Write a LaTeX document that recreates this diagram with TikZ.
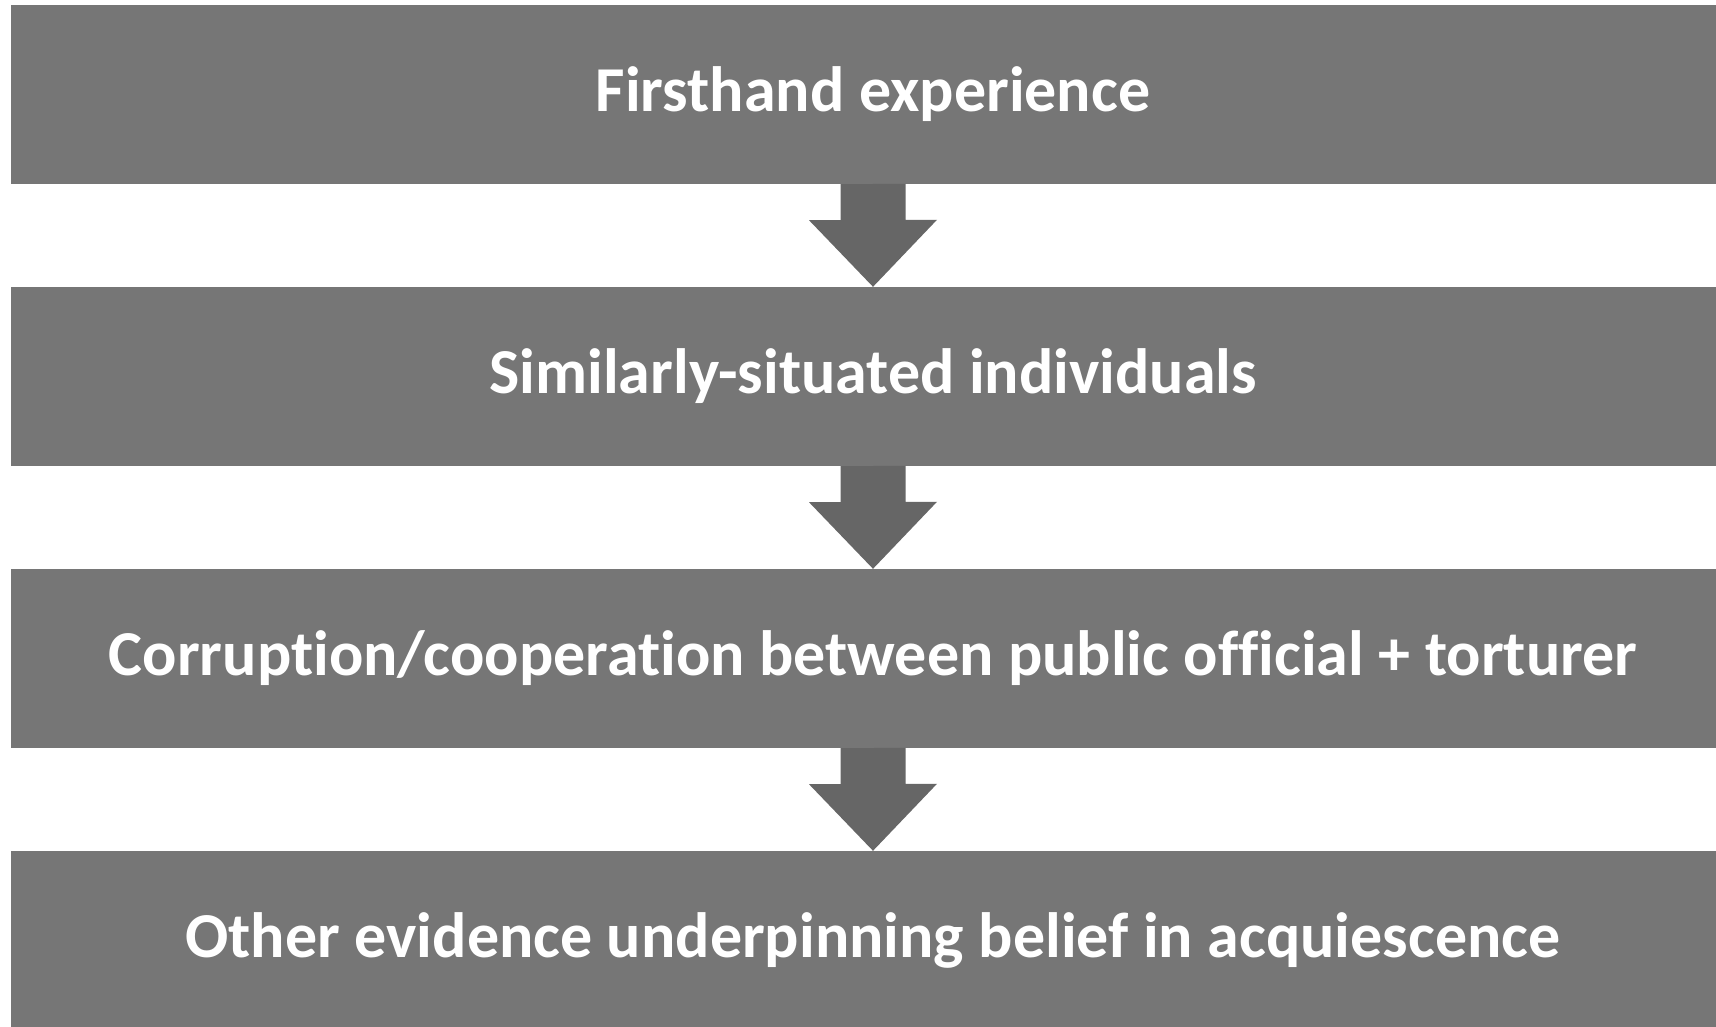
\documentclass[tikz,border=0pt]{standalone}
\usepackage{fontspec}
\setmainfont[RawFeature=-liga]{Carlito}
\begin{document}
\begin{tikzpicture}[x=1pt,y=-1pt,
  stage/.style={fill=boxgray, draw=none, minimum width=1724pt, minimum height=179pt,
    inner sep=0pt, text=white, font=\fontsize{64}{76}\selectfont\bfseries},
  flowarrow/.style={fill=arrowgray, draw=none}]
\definecolor{boxgray}{RGB}{118,118,118}
\definecolor{arrowgray}{RGB}{102,102,102}
\useasboundingbox (0,0) rectangle (1716,1027);
\clip (0,0) rectangle (1716,1027);
\fill[white] (0,0) rectangle (1716,1027);
% four stacked stages
\node[stage] (s1) at (873,94.5)  {Firsthand experience};
\node[stage] (s2) at (873,376.5) {Similarly-situated individuals};
\node[stage] (s3) at (873,658.5) {Corruption/cooperation between public official + torturer};
\node[stage] (s4) at (873,940.5) {Other evidence underpinning belief in acquiescence};
% downward block arrows between stages
\foreach \a/\b in {s1/s2, s2/s3, s3/s4}{
  \fill[flowarrow] (\a.south) ++(-32.5,0) -- ++(0,36) -- ++(-31.5,0) -- (\b.north)
    -- ++(64,-67) -- ++(-31.5,0) -- ++(0,-36) -- cycle;
}
\end{tikzpicture}
\end{document}
